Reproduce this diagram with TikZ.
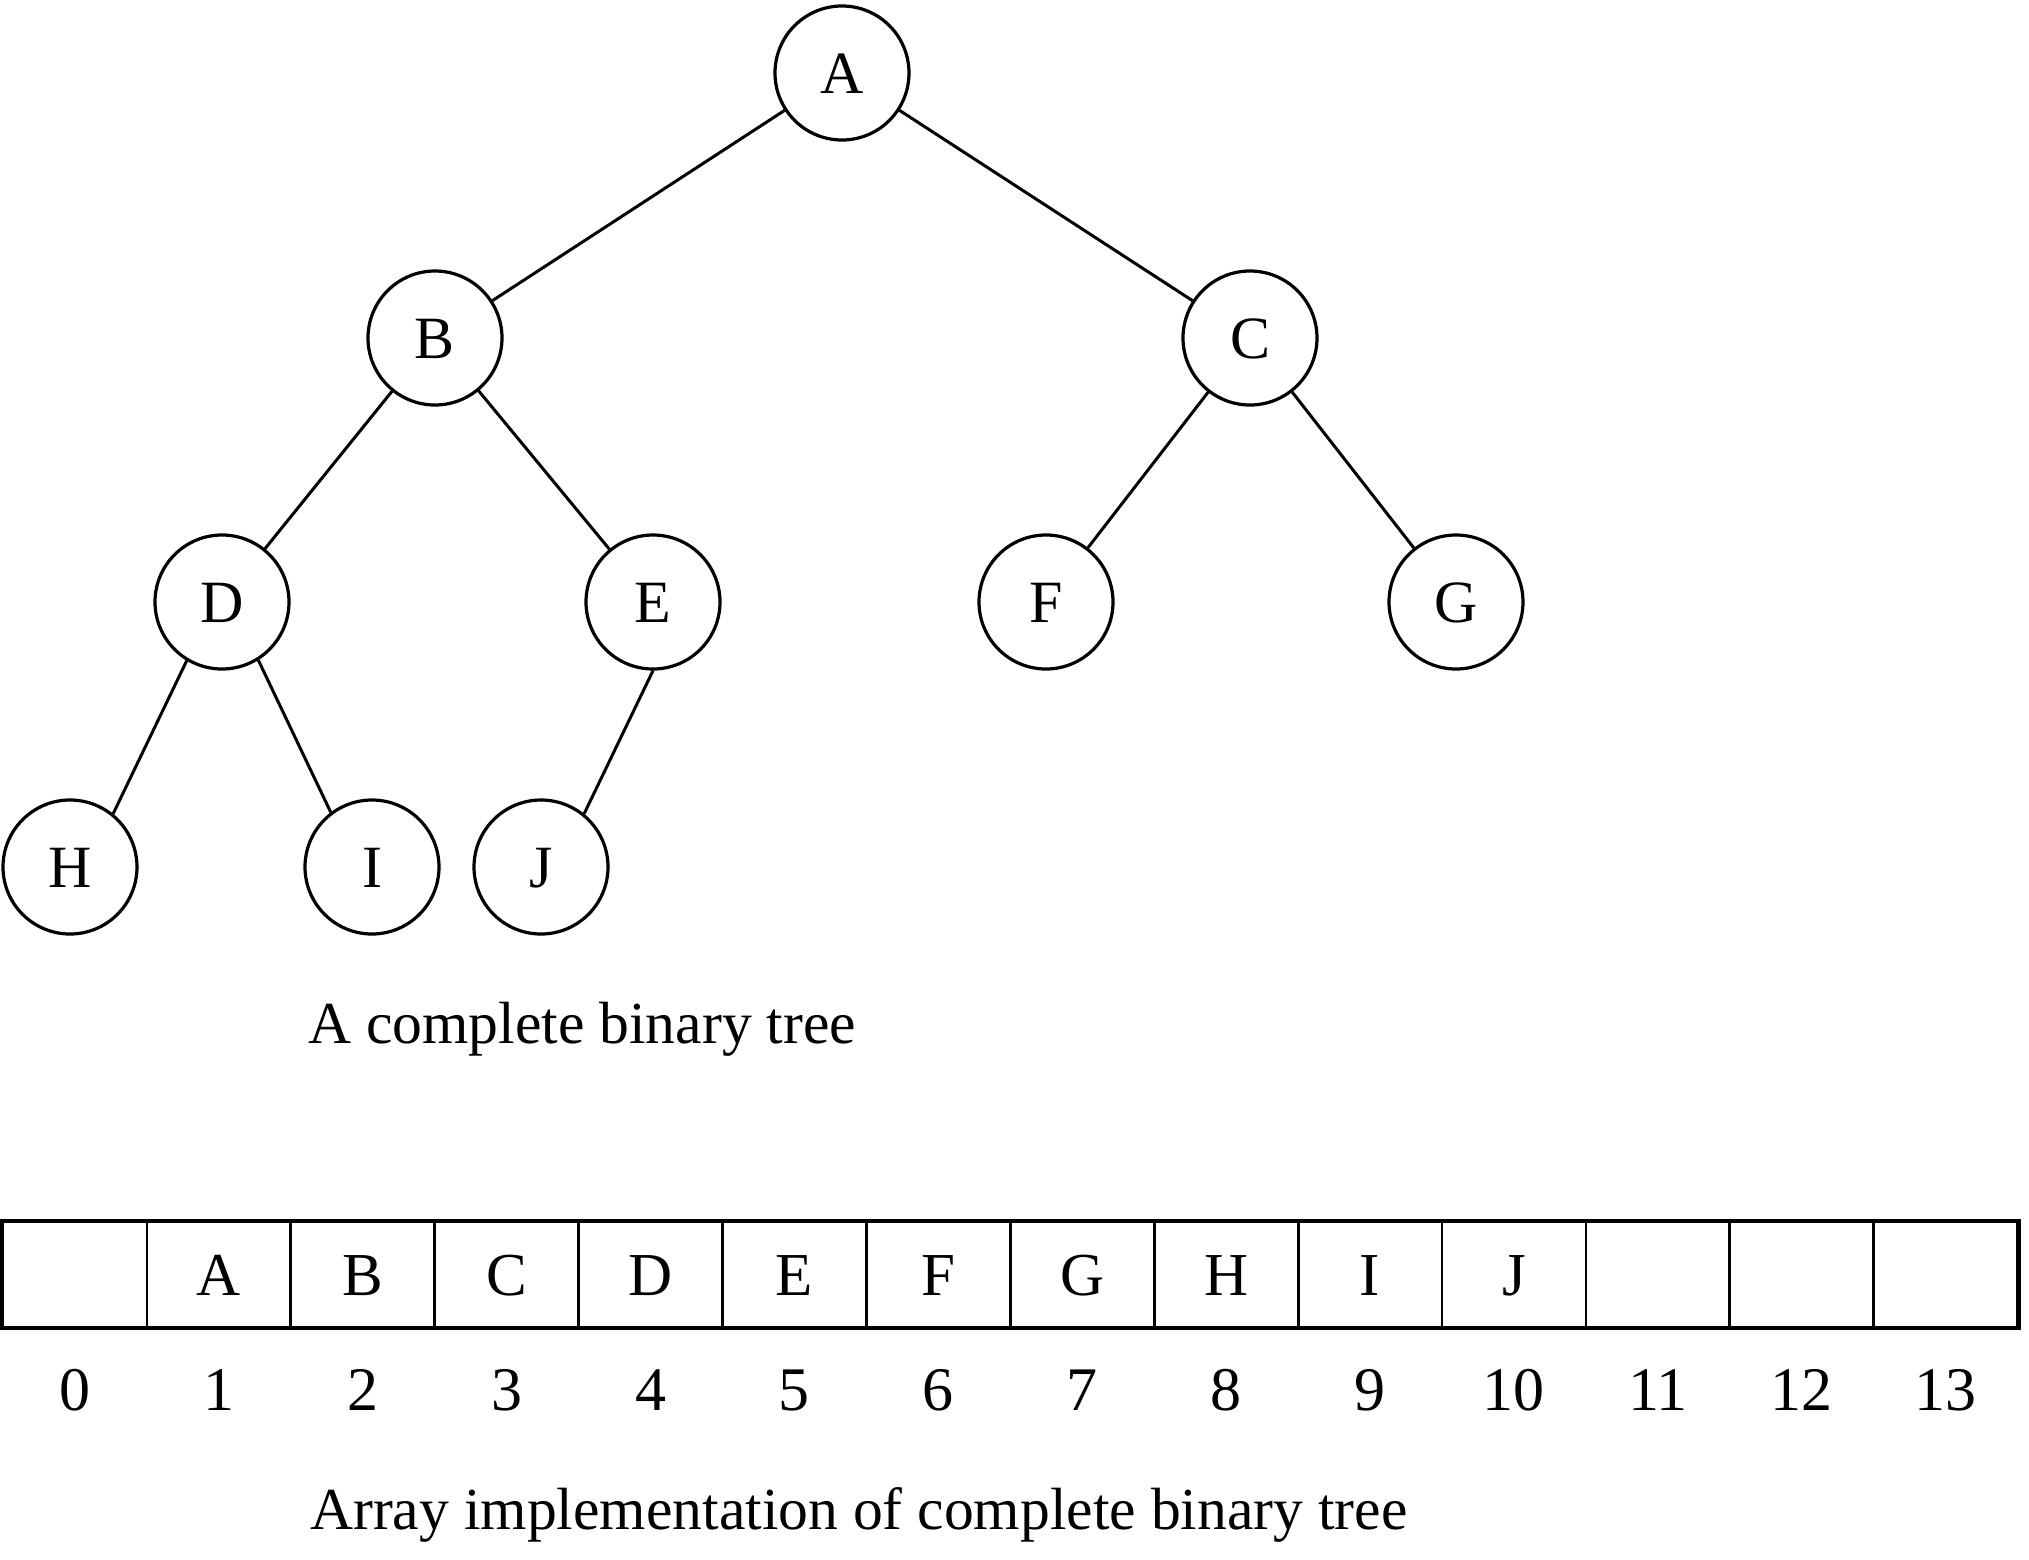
\documentclass[tikz,border=0pt]{standalone}
\usepackage{fontspec}
\setmainfont{Liberation Serif}
\begin{document}
\begin{tikzpicture}[x=1pt,y=-1pt,
  treenode/.style={circle,draw,line width=3.2pt,minimum size=134pt,inner sep=0pt,
    text height=40pt,text depth=0pt,font=\fontsize{60}{70}\selectfont},
  edge/.style={line width=3pt},
  cell/.style={draw,line width=2.8pt,minimum width=143.9pt,minimum height=105pt,
    inner sep=0pt,text height=41pt,text depth=0pt,font=\fontsize{61}{70}\selectfont},
  idx/.style={inner sep=0pt,text height=42pt,text depth=0pt,font=\fontsize{62}{70}\selectfont},
  caption/.style={anchor=base west,inner sep=0pt,font=\fontsize{59.6}{70}\selectfont}]
\useasboundingbox (0,0) rectangle (2029,1559);

% the tree
\node[treenode] (A) at (842,73)  {A};
\node[treenode] (B) at (435,338) {B};
\node[treenode] (C) at (1250,338) {C};
\node[treenode] (D) at (222,602) {D};
\node[treenode] (E) at (653,602) {E};
\node[treenode] (F) at (1046,602) {F};
\node[treenode] (G) at (1456,602) {G};
\node[treenode] (H) at (70,867)  {H};
\node[treenode] (I) at (372,867) {I};
\node[treenode] (J) at (541,867) {J};

\draw[edge] (A) -- (B);
\draw[edge] (A) -- (C);
\draw[edge] (B) -- (D);
\draw[edge] (B) -- (E);
\draw[edge] (C) -- (F);
\draw[edge] (C) -- (G);
\draw[edge] (D.239) -- (H.51);
\draw[edge] (D.302) -- (I.127);
\draw[edge] (E.270) -- (J.51);

\node[caption] (cap1) at (308,1043) {A complete binary tree};

% the array, slots 0 to 13
\foreach \i/\v in {0/,1/A,2/B,3/C,4/D,5/E,6/F,7/G,8/H,9/I,10/J,11/,12/,13/} {
  \node[cell] (cell\i) at ({3+(\i+0.5)*143.9},1274.5) {\v};
  \node[idx] (idx\i) at ({3+(\i+0.5)*143.9},1389) {\i};
}
\draw[line width=3.2pt] (cell0.north west) rectangle (cell13.south east);

\node[caption] (cap2) at (310,1529) {Array implementation of complete binary tree};
\end{tikzpicture}
\end{document}
